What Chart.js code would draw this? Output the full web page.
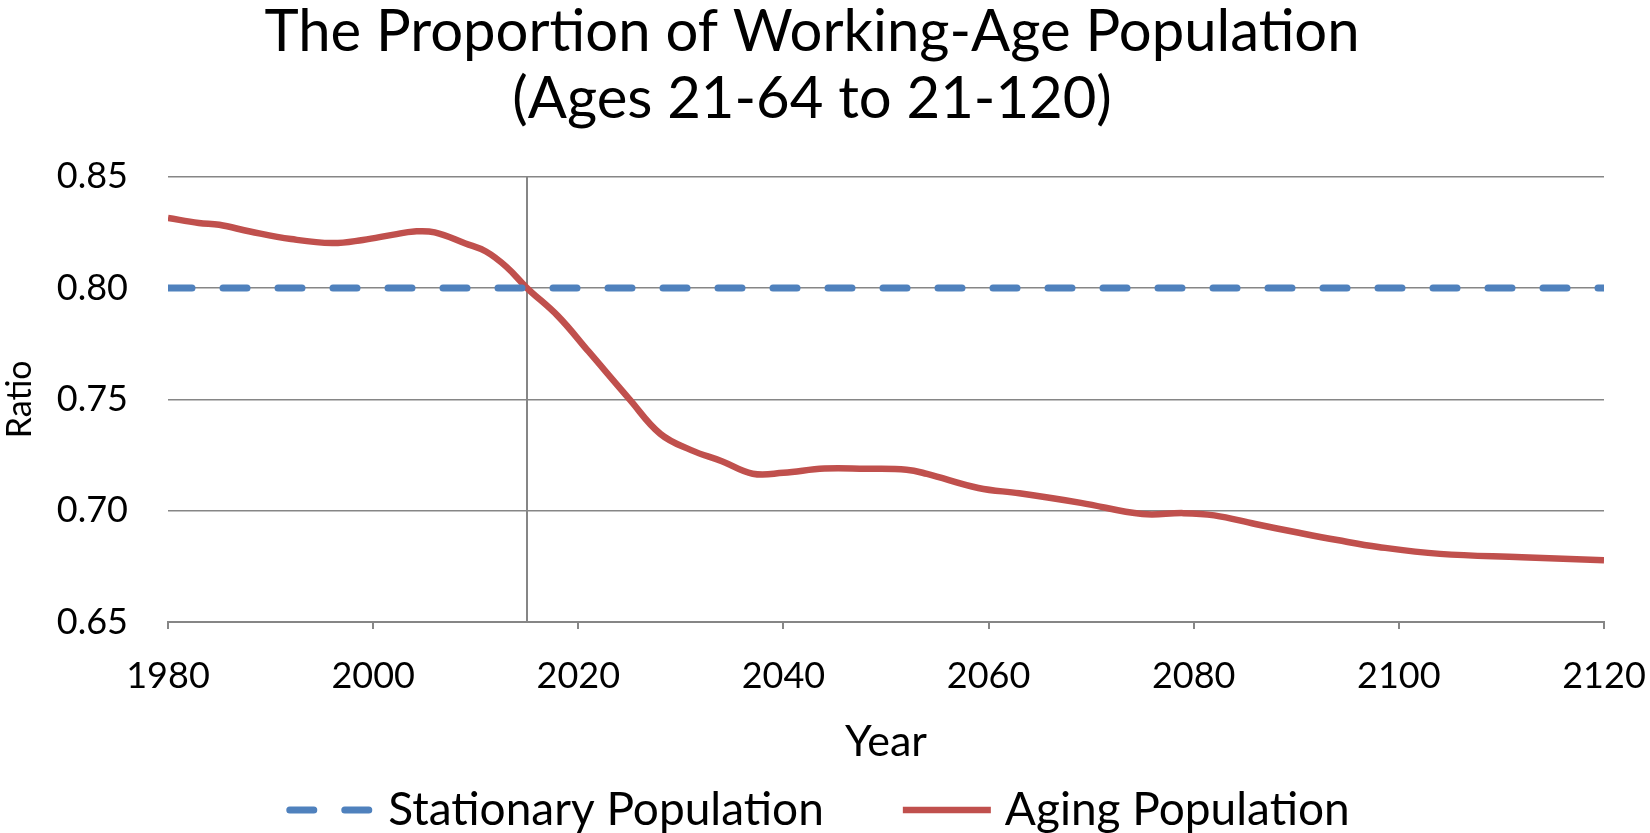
<!DOCTYPE html>
<html>
<head>
<meta charset="utf-8">
<script src="https://cdn.jsdelivr.net/npm/chart.js@4.4.1/dist/chart.umd.min.js"></script>
<style>
  html, body { margin: 0; padding: 0; background: #ffffff; }
  #wrap { width: 1650px; height: 833px; }
</style>
</head>
<body>
<div id="wrap"><canvas id="chart" width="1650" height="833"></canvas></div>
<script>
// Years and ratios
const agingYears = [1980, 1983, 1985, 1988, 1992, 1996, 1999, 2002, 2004, 2006, 2009, 2011, 2013, 2015,
    2018, 2021, 2025, 2028, 2031, 2034, 2037, 2040, 2044, 2048, 2052, 2054, 2059, 2063, 2069,
    2075, 2079, 2082, 2086, 2090, 2094, 2098, 2104, 2112, 2120];
const agingValues = [0.8315, 0.8292, 0.8284, 0.8254, 0.8220, 0.8202, 0.8216, 0.8240, 0.8254, 0.8250, 0.8200, 0.8164, 0.8095, 0.8000,
    0.7875, 0.7715, 0.7500, 0.7345, 0.7272, 0.7222, 0.7166, 0.7170, 0.7189, 0.7188, 0.7184, 0.7165, 0.7102, 0.7078, 0.7035,
    0.6985, 0.6989, 0.6979, 0.6940, 0.6903, 0.6868, 0.6837, 0.6806, 0.6791, 0.6777];

const stationaryYears = [1980, 2120];
const stationaryValues = [0.80, 0.80];

const xTicks = [1980, 2000, 2020, 2040, 2060, 2080, 2100, 2120];
const yTicks = [0.65, 0.70, 0.75, 0.80, 0.85];
const AXIS_CROSS_YEAR = 2015;

const FONT = 'Lato, "Open Sans", sans-serif';
const GRID = 'rgb(134, 134, 134)';
const BLUE = '#4F81BD';
const RED = '#C0504D';

const toPoints = (xs, ys) => xs.map((x, i) => ({ x, y: ys[i] }));

// vertical axis crossing the x axis at 2015
const crossLine = {
    id: 'crossLine',
    beforeDatasetsDraw(chart) {
        const { ctx, chartArea, scales } = chart;
        const px = scales.x.getPixelForValue(AXIS_CROSS_YEAR);
        ctx.save();
        ctx.strokeStyle = GRID;
        ctx.lineWidth = 2;
        ctx.beginPath();
        ctx.moveTo(px, chartArea.top);
        ctx.lineTo(px, chartArea.bottom);
        ctx.stroke();
        ctx.restore();
    }
};

// Excel-like legend: line sample + label, wide gap between entries
const LEGEND = { y: 810, center: 818, marker: 88, textGap: 14, itemGap: 79, fontSize: 46 };
const bottomLegend = {
    id: 'bottomLegend',
    afterDraw(chart) {
        const { ctx } = chart;
        ctx.save();
        ctx.font = `${LEGEND.fontSize}px ${FONT}`;
        const items = chart.data.datasets.map(ds => ({ ds, w: ctx.measureText(ds.label).width }));
        const total = items.reduce((s, it) => s + LEGEND.marker + LEGEND.textGap + it.w, 0) + LEGEND.itemGap * (items.length - 1);
        let x = LEGEND.center - total / 2;
        items.forEach(({ ds, w }) => {
            ctx.strokeStyle = ds.borderColor;
            ctx.lineWidth = ds.borderWidth;
            ctx.lineCap = ds.borderCapStyle;
            ctx.setLineDash(ds.borderDash || []);
            ctx.beginPath();
            ctx.moveTo(x + (ds.borderDash ? 3.5 : 0), LEGEND.y);
            ctx.lineTo(x + LEGEND.marker, LEGEND.y);
            ctx.stroke();
            ctx.setLineDash([]);
            x += LEGEND.marker + LEGEND.textGap;
            ctx.fillStyle = '#000';
            ctx.textBaseline = 'middle';
            ctx.textAlign = 'left';
            ctx.fillText(ds.label, x, LEGEND.y);
            x += w + LEGEND.itemGap;
        });
        ctx.restore();
    }
};

new Chart(document.getElementById('chart').getContext('2d'), {
    type: 'line',
    data: {
        datasets: [{
            label: 'Stationary Population',
            data: toPoints(stationaryYears, stationaryValues),
            borderColor: BLUE,
            borderWidth: 7,
            borderDash: [24, 31],
            borderCapStyle: 'round',
            pointRadius: 0
        }, {
            label: 'Aging Population',
            data: toPoints(agingYears, agingValues),
            borderColor: RED,
            borderWidth: 6.5,
            borderCapStyle: 'butt',
            borderJoinStyle: 'round',
            tension: 0.4,
            pointRadius: 0
        }]
    },
    options: {
        responsive: false,
        animation: false,
        layout: { padding: { top: -2, right: 26, bottom: 65, left: 0 } },
        scales: {
            x: {
                type: 'linear',
                min: 1980,
                max: 2120,
                afterBuildTicks: (scale) => { scale.ticks = xTicks.map(v => ({ value: v })); },
                afterFit: (scale) => {
                    scale.height = 146;
                    scale.paddingLeft = 0;
                    scale.paddingRight = 46;
                },
                ticks: { color: '#000', font: { family: FONT, size: 36 }, padding: 26, callback: (v) => String(v) },
                grid: { drawOnChartArea: false, color: GRID, lineWidth: 2, tickLength: 7 },
                border: { color: GRID, width: 2 },
                title: { display: true, text: 'Year', color: '#000', font: { family: FONT, size: 43 }, padding: { top: 0, bottom: 0 } }
            },
            y: {
                min: 0.65,
                max: 0.85,
                afterBuildTicks: (scale) => { scale.ticks = yTicks.map(v => ({ value: v })); },
                afterFit: (scale) => { scale.width = 168; },
                ticks: { color: '#000', font: { family: FONT, size: 36 }, padding: 40, callback: (v) => v.toFixed(2) },
                grid: { color: GRID, lineWidth: 1.5, drawTicks: false },
                border: { display: false },
                title: { display: true, text: 'Ratio', color: '#000', font: { family: FONT, size: 34 }, padding: 0 }
            }
        },
        plugins: {
            title: {
                display: true,
                text: ['The Proportion of Working-Age Population', '(Ages 21-64 to 21-120)'],
                color: '#000',
                font: { family: FONT, size: 58, weight: 'normal', lineHeight: 1.17 },
                padding: { top: 0, bottom: 43 }
            },
            legend: { display: false },
            tooltip: { enabled: false }
        }
    },
    plugins: [crossLine, bottomLegend]
});
</script>
</body>
</html>
